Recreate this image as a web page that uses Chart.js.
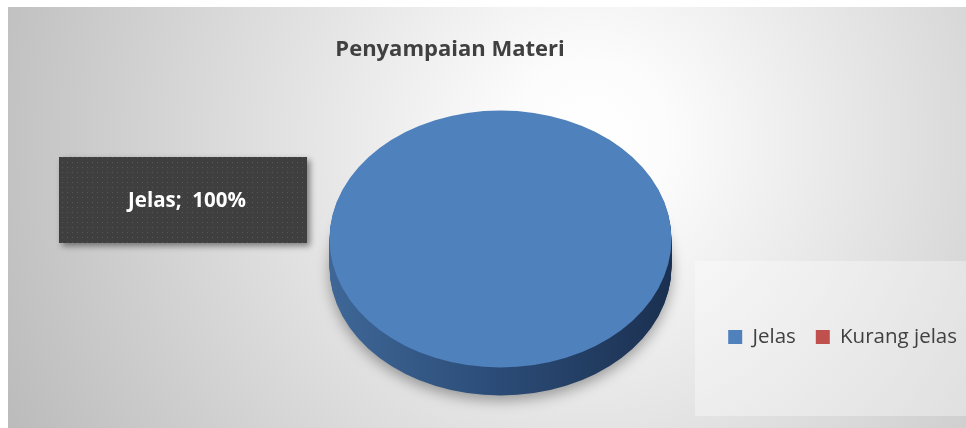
<!DOCTYPE html>
<html>
<head>
<meta charset="utf-8">
<script src="https://cdn.jsdelivr.net/npm/chart.js@4.4.0/dist/chart.umd.min.js"></script>
<style>
    html, body { margin: 0; padding: 0; background: #fff; }
</style>
</head>
<body>
<canvas id="chart" width="966" height="428"></canvas>
<script>
// Data
const categories = ['Jelas', 'Kurang jelas'];
const percentages = [100, 0];
const sliceColors = ['#4F81BD', '#C0504D'];
const chartTitle = 'Penyampaian Materi';

// 3D look of the pie
const tilt = 0.752;      // ry / rx of the top face
const depth = 28;        // thickness of the side
const titleCenterX = 450;
const fontFamily = '"Open Sans", "Liberation Sans", sans-serif';

// Background: radial grey gradient + light legend panel
const backgroundPlugin = {
    id: 'backgroundPlugin',
    beforeDraw(chart) {
        const ctx = chart.ctx;
        ctx.save();
        ctx.fillStyle = '#ffffff';
        ctx.fillRect(0, 0, chart.width, chart.height);
        const g = ctx.createRadialGradient(590, 140, 0, 590, 140, 640);
        g.addColorStop(0, '#ffffff');
        g.addColorStop(0.12, '#fcfcfc');
        g.addColorStop(1, '#bcbcbc');
        ctx.fillStyle = g;
        ctx.fillRect(8, 7, chart.width - 8, chart.height - 7);
        // panel behind the legend
        ctx.fillStyle = 'rgba(255,255,255,0.35)';
        ctx.fillRect(695, 261, chart.width - 695, 155);
        ctx.restore();
    }
};

// Move the title so it is not centred over the pie
const titleShiftPlugin = {
    id: 'titleShiftPlugin',
    afterLayout(chart) {
        const tb = chart.titleBlock;
        if (tb) {
            tb.left = titleCenterX - 300;
            tb.right = titleCenterX + 300;
        }
    }
};

// Squash the pie into an ellipse and draw its side
const pie3dPlugin = {
    id: 'pie3dPlugin',
    beforeDatasetsDraw(chart) {
        const ctx = chart.ctx;
        const arcs = chart.getDatasetMeta(0).data;
        const cx = arcs[0].x, cy = arcs[0].y, r = arcs[0].outerRadius;
        const side = ctx.createLinearGradient(cx - r, 0, cx + r, 0);
        side.addColorStop(0, '#3e6797');
        side.addColorStop(0.5, '#2b4b76');
        side.addColorStop(1, '#1b3050');
        for (let d = depth; d >= 1; d--) {
            ctx.save();
            ctx.translate(cx, cy + d);
            ctx.scale(1, tilt);
            ctx.translate(-cx, -cy);
            if (d === depth) {
                ctx.shadowColor = 'rgba(0,0,0,0.35)';
                ctx.shadowBlur = 14;
                ctx.shadowOffsetY = 5;
            }
            arcs.forEach(a => {
                const orig = a.options;
                a.options = Object.assign({}, orig, { backgroundColor: side, borderColor: side, borderWidth: 0 });
                a.draw(ctx);
                a.options = orig;
            });
            ctx.restore();
        }
        // top face: keep transform while Chart.js draws the dataset
        ctx.save();
        ctx.translate(cx, cy);
        ctx.scale(1, tilt);
        ctx.translate(-cx, -cy);
    },
    afterDatasetsDraw(chart) {
        chart.ctx.restore();
    }
};

// Dark data label box "Jelas;  100%"
const labelBox = { x: 59, y: 157, w: 248, h: 86 };
const dataLabelPlugin = {
    id: 'dataLabelPlugin',
    afterDraw(chart) {
        const ctx = chart.ctx;
        const pc = document.createElement('canvas');
        pc.width = 5; pc.height = 5;
        const p = pc.getContext('2d');
        p.fillStyle = '#3f3f3f';
        p.fillRect(0, 0, 5, 5);
        p.fillStyle = '#585858';
        p.fillRect(2, 2, 1, 1);
        ctx.save();
        ctx.shadowColor = 'rgba(0,0,0,0.45)';
        ctx.shadowBlur = 6;
        ctx.shadowOffsetX = 3;
        ctx.shadowOffsetY = 3;
        ctx.fillStyle = ctx.createPattern(pc, 'repeat');
        ctx.fillRect(labelBox.x, labelBox.y, labelBox.w, labelBox.h);
        ctx.restore();

        ctx.save();
        ctx.fillStyle = '#ffffff';
        ctx.font = 'bold 20.5px ' + fontFamily;
        ctx.textAlign = 'center';
        ctx.textBaseline = 'middle';
        const text = categories[0] + ';  ' + percentages[0] + '%';
        ctx.fillText(text, labelBox.x + labelBox.w / 2 + 4, labelBox.y + labelBox.h / 2 + 1);
        ctx.restore();
    }
};

const ctx = document.getElementById('chart').getContext('2d');
new Chart(ctx, {
    type: 'pie',
    data: {
        labels: categories,
        datasets: [{
            data: percentages,
            backgroundColor: sliceColors,
            borderWidth: 0,
            radius: 171,
            clip: false
        }]
    },
    options: {
        responsive: false,
        animation: false,
        events: [],
        layout: {
            padding: { left: 35, right: -11, top: 0, bottom: 70.75 }
        },
        plugins: {
            title: {
                display: true,
                text: chartTitle,
                color: '#404040',
                font: { family: fontFamily, size: 22, weight: 'bold', lineHeight: 1.2 },
                padding: { top: 36.8, bottom: 108.05 }
            },
            legend: {
                position: 'bottom',
                align: 'end',
                labels: {
                    boxWidth: 14,
                    boxHeight: 14,
                    padding: 20,
                    color: '#404040',
                    font: { family: fontFamily, size: 20.5 }
                }
            },
            tooltip: { enabled: false }
        }
    },
    plugins: [backgroundPlugin, titleShiftPlugin, pie3dPlugin, dataLabelPlugin]
});
</script>
</body>
</html>
